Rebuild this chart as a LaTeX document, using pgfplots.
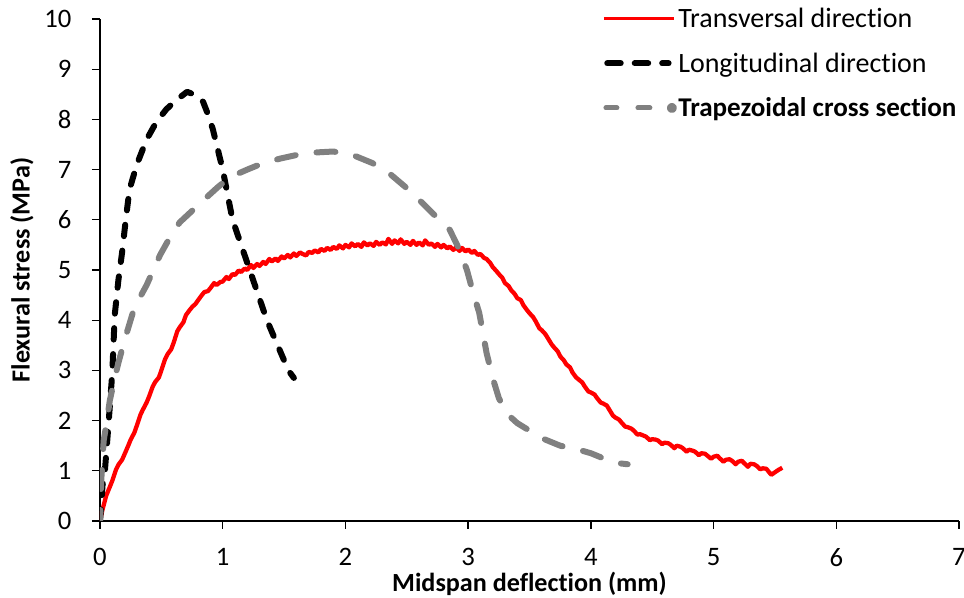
\documentclass[border=0pt]{standalone}
\usepackage{fontspec}
\setmainfont{Carlito}[Ligatures=NoCommon]
\usepackage{pgfplots}
\pgfplotsset{compat=1.18}

\definecolor{trred}{RGB}{255,0,0}
\definecolor{trgray}{RGB}{128,128,128}

\begin{document}
\begin{tikzpicture}
\begin{axis}[
  scale only axis, width=644.25pt, height=376.5pt,
  xmin=0, xmax=7, ymin=0, ymax=10,
  axis x line=bottom, axis y line=left,
  axis line style={-, line width=1pt, black},
  xtick={0,1,...,7}, ytick={0,1,...,10},
  tick align=outside, major tick length=6pt,
  tick style={line width=1pt, black},
  /pgf/number format/assume math mode=true,
  tick label style={font=\fontsize{20}{23}\selectfont},
  xticklabel style={yshift=-11pt},
  yticklabel style={xshift=-12pt},
  xlabel={Midspan deflection (mm)},
  ylabel={Flexural stress (MPa)},
  xlabel style={at={(axis description cs:0.5,-0.1255)}, anchor=center, font=\fontsize{19.6}{22}\selectfont\bfseries},
  ylabel style={at={(axis description cs:-0.0908,0.5)}, anchor=center, font=\fontsize{19.6}{22}\selectfont\bfseries},
  legend style={at={(axis description cs:0.5844,1)}, anchor=north west, yshift=9.5pt,
    draw=none, fill=none, inner sep=0pt, row sep=15.5pt,
    font=\fontsize{21}{24}\selectfont,
    nodes={inner sep=1pt},
    /tikz/every even column/.append style={column sep=4pt}},
  legend cell align=left,
]

% transversal specimens
\addplot[trred, line width=3.2pt, line join=round,
  legend image code/.code={\draw[trred, line width=2.5pt] (0pt,0pt) -- (52.5pt,0pt);}]
  table {
x y
0 0
0.02 0.22
0.05 0.5
0.08 0.68
0.1 0.8
0.13 1.02
0.15 1.12
0.18 1.22
0.2 1.33
0.23 1.5
0.25 1.62
0.28 1.76
0.3 1.9
0.33 2.12
0.35 2.22
0.38 2.36
0.4 2.48
0.43 2.68
0.45 2.77
0.48 2.86
0.5 3.0
0.53 3.22
0.55 3.32
0.58 3.42
0.6 3.55
0.63 3.78
0.65 3.86
0.68 3.96
0.7 4.1
0.73 4.2
0.75 4.26
0.78 4.33
0.8 4.4
0.83 4.5
0.85 4.56
0.88 4.58
0.9 4.64
0.93 4.74
0.95 4.7
0.98 4.76
1.0 4.77
1.03 4.86
1.05 4.82
1.08 4.92
1.1 4.9
1.13 4.99
1.15 4.96
1.18 5.03
1.2 5.0
1.23 5.1
1.25 5.04
1.28 5.12
1.3 5.08
1.33 5.16
1.35 5.12
1.38 5.22
1.4 5.17
1.43 5.23
1.45 5.18
1.48 5.27
1.5 5.23
1.53 5.3
1.55 5.25
1.58 5.33
1.6 5.28
1.63 5.35
1.65 5.32
1.68 5.29
1.7 5.36
1.73 5.34
1.75 5.39
1.78 5.35
1.8 5.42
1.83 5.38
1.85 5.44
1.88 5.4
1.9 5.46
1.93 5.42
1.95 5.49
1.98 5.43
2.0 5.5
2.03 5.45
2.05 5.53
2.08 5.47
2.1 5.52
2.13 5.46
2.15 5.55
2.18 5.49
2.2 5.53
2.23 5.48
2.25 5.56
2.28 5.5
2.3 5.55
2.33 5.51
2.35 5.62
2.38 5.52
2.4 5.59
2.43 5.53
2.45 5.61
2.48 5.52
2.5 5.56
2.53 5.5
2.55 5.58
2.58 5.5
2.6 5.55
2.63 5.49
2.65 5.59
2.68 5.5
2.7 5.53
2.73 5.46
2.75 5.52
2.78 5.45
2.8 5.5
2.83 5.43
2.85 5.47
2.88 5.4
2.9 5.45
2.93 5.38
2.95 5.44
2.98 5.37
3.0 5.41
3.03 5.34
3.05 5.38
3.08 5.3
3.1 5.32
3.13 5.24
3.15 5.22
3.18 5.14
3.2 5.06
3.23 4.98
3.25 4.92
3.28 4.84
3.3 4.74
3.33 4.68
3.35 4.6
3.38 4.52
3.4 4.44
3.43 4.4
3.45 4.3
3.48 4.2
3.5 4.14
3.53 4.06
3.55 3.98
3.58 3.84
3.6 3.8
3.63 3.72
3.65 3.64
3.68 3.52
3.7 3.46
3.73 3.38
3.75 3.28
3.78 3.2
3.8 3.12
3.83 3.06
3.85 2.96
3.88 2.86
3.9 2.82
3.93 2.76
3.95 2.68
3.98 2.58
4.0 2.56
4.03 2.52
4.05 2.45
4.08 2.36
4.1 2.34
4.13 2.3
4.15 2.22
4.18 2.1
4.2 2.06
4.23 2.02
4.25 1.96
4.28 1.88
4.3 1.87
4.33 1.84
4.35 1.8
4.38 1.72
4.4 1.73
4.43 1.7
4.45 1.68
4.48 1.61
4.5 1.63
4.53 1.62
4.55 1.6
4.58 1.53
4.6 1.56
4.63 1.55
4.65 1.52
4.68 1.45
4.7 1.5
4.73 1.48
4.75 1.45
4.78 1.38
4.8 1.42
4.83 1.4
4.85 1.38
4.88 1.31
4.9 1.35
4.93 1.34
4.95 1.3
4.98 1.24
5.0 1.28
5.03 1.3
5.05 1.25
5.08 1.18
5.1 1.22
5.13 1.23
5.15 1.2
5.18 1.13
5.2 1.18
5.23 1.2
5.25 1.15
5.28 1.08
5.3 1.14
5.33 1.13
5.35 1.1
5.38 1.03
5.4 1.05
5.43 1.04
5.45 0.98
5.47 0.92
5.5 0.97
5.53 1.02
5.56 1.06
};
\addlegendentry{Transversal direction}

% longitudinal specimens
\addplot[black, line width=4.5pt, line cap=round, line join=round,
  dash pattern=on 8.6pt off 10.9pt,
  legend image code/.code={\draw[black, line width=4.5pt, line cap=round, dash pattern=on 10.1pt off 10.5pt] (2.5pt,0pt) -- (48.5pt,0pt);}]
  table {
x y
0 0
0.01 0.3
0.02 0.7
0.04 1.0
0.07 1.95
0.1 2.95
0.12 4.1
0.15 4.8
0.18 5.35
0.21 6.0
0.24 6.6
0.3 7.1
0.38 7.6
0.46 7.95
0.54 8.2
0.62 8.38
0.71 8.55
0.78 8.48
0.84 8.35
0.88 8.1
0.92 7.8
0.96 7.4
1.0 7.0
1.04 6.5
1.08 6.0
1.15 5.5
1.22 5.0
1.29 4.5
1.36 4.0
1.43 3.6
1.5 3.2
1.55 2.95
1.58 2.85
};
\addlegendentry{Longitudinal direction}

% trapezoidal cross section
\addplot[trgray, line width=4.5pt, line cap=round, line join=round,
  dash pattern=on 14.25pt off 15.75pt, dash phase=6pt,
  legend image code/.code={\draw[trgray, line width=3.75pt, line cap=round] (1.5pt,0pt) -- (34.5pt,0pt); \fill[trgray] (51pt,0pt) circle (1.5pt);}]
  table {
x y
0 0
0.01 0.8
0.03 1.6
0.05 1.9
0.08 2.4
0.12 2.85
0.15 3.15
0.2 3.6
0.28 4.25
0.38 4.7
0.49 5.3
0.57 5.65
0.65 5.95
0.76 6.2
0.87 6.45
0.96 6.65
1.06 6.85
1.2 7.0
1.33 7.13
1.47 7.22
1.6 7.29
1.75 7.34
1.9 7.36
2.05 7.3
2.22 7.13
2.37 6.9
2.5 6.63
2.62 6.35
2.74 6.06
2.85 5.8
2.92 5.45
2.99 5.0
3.04 4.55
3.09 4.15
3.15 3.35
3.2 2.85
3.25 2.45
3.31 2.15
3.4 1.95
3.5 1.8
3.6 1.65
3.75 1.5
3.9 1.42
4.0 1.35
4.1 1.25
4.23 1.15
4.3 1.13
};
\addlegendentry{\fontsize{20.3}{23}\selectfont\bfseries Trapezoidal cross section}

\coordinate (O) at (rel axis cs:0,0);
\end{axis}
\pgfresetboundingbox
\path ([shift={(-75pt,-57.75pt)}]O) rectangle ([shift={(648pt,390.75pt)}]O);
\end{tikzpicture}
\end{document}
